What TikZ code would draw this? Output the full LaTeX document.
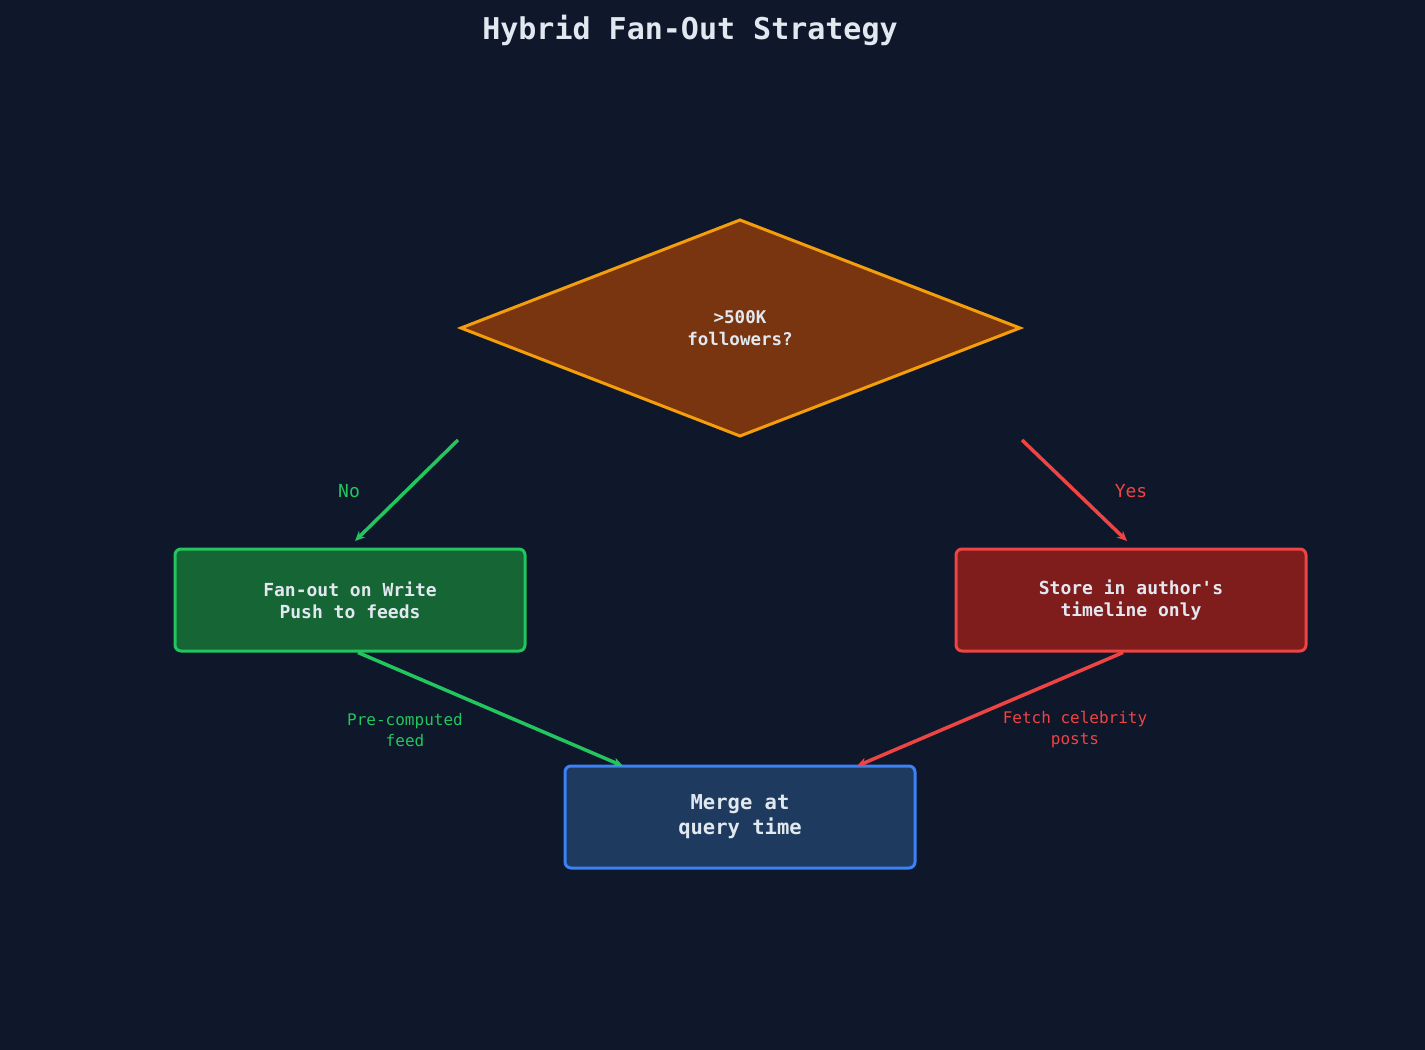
\documentclass[tikz,border=0pt]{standalone}
\usepackage{fontspec}
\setmonofont{DejaVu Sans Mono}
\usetikzlibrary{arrows.meta}
\definecolor{bg}{HTML}{0F172A}
\definecolor{txt}{HTML}{E2E8F0}
\definecolor{gS}{HTML}{22C55E}\definecolor{gF}{HTML}{166534}
\definecolor{rS}{HTML}{EF4444}\definecolor{rF}{HTML}{7F1D1D}
\definecolor{bS}{HTML}{3B82F6}\definecolor{bF}{HTML}{1E3A5F}
\definecolor{oS}{HTML}{F59E0B}\definecolor{oF}{HTML}{78350F}
\begin{document}
\begin{tikzpicture}[x=1pt,y=-1pt,font=\ttfamily,
 box/.style={draw,line width=3pt,rounded corners=6pt,minimum width=350pt,minimum height=102pt,align=center,text=txt,font=\ttfamily\bfseries\fontsize{18}{22}\selectfont},
 arr/.style={line width=3.5pt,-{Stealth[length=10pt,width=9pt]}},
 lbl/.style={font=\ttfamily\fontsize{16}{21}\selectfont,align=center}]
\fill[bg] (0,0) rectangle (1425,1050);
\node[text=txt,font=\ttfamily\bfseries\fontsize{30}{34}\selectfont] (title) at (690,30) {Hybrid Fan-Out Strategy};
\draw[oS,fill=oF,line width=3pt] (740,220) coordinate (dt) -- (1020,328) coordinate (dr) -- (740,436) -- (461,328) coordinate (dl) -- cycle;
\node[text=txt,align=center,font=\ttfamily\bfseries\fontsize{17.5}{22}\selectfont] (d) at (740,328) {>500K\\followers?};
\node[box,draw=gS,fill=gF] (g) at (350,600) {Fan-out on Write\\Push to feeds};
\node[box,draw=rS,fill=rF] (r) at (1131,600) {Store in author's\\timeline only};
\node[box,draw=bS,fill=bF,font=\ttfamily\bfseries\fontsize{20.5}{25}\selectfont] (b) at (740,817) {Merge at\\query time};
\coordinate (na) at (458,440); \coordinate (ya) at (1022,440);
\draw[arr,gS] (na) -- (355,541);
\draw[arr,rS] (ya) -- (1127,541);
\draw[arr,gS] (g.south) ++(8,0) -- (623,766);
\draw[arr,rS] (r.south) ++(-8,0) -- (857,766);
\node[lbl,text=gS,font=\ttfamily\fontsize{18}{21}\selectfont] (no) at (349,491) {No};
\node[lbl,text=rS,font=\ttfamily\fontsize{18}{21}\selectfont] (yes) at (1131,491) {Yes};
\node[lbl,text=gS] (pc) at (405,730) {Pre-computed\\feed};
\node[lbl,text=rS] (fc) at (1075,730) {Fetch celebrity\\posts};
\end{tikzpicture}
\end{document}
